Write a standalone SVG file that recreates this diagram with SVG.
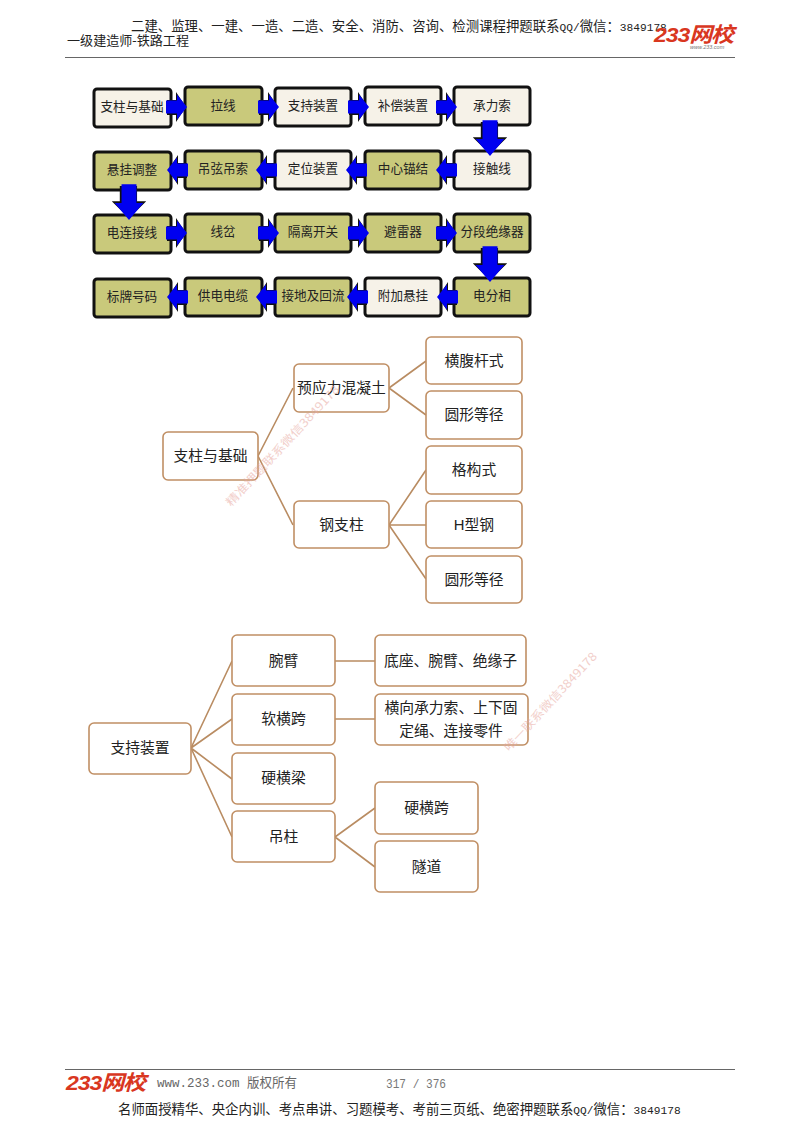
<svg xmlns="http://www.w3.org/2000/svg" width="800" height="1132" viewBox="0 0 800 1132">
<style>
text{font-family:"Liberation Sans","Noto Sans CJK SC",sans-serif;fill:#222}
.hd{font-family:"Liberation Serif","Noto Sans CJK SC",serif;fill:#222}
.mono{font-family:"Liberation Mono",monospace;font-size:11.2px}
.gy{font-family:"Liberation Mono","Noto Sans CJK SC",monospace;fill:#777}
.c{text-anchor:middle;dominant-baseline:central}
.f{font-size:12.6px}
.t{font-size:14.8px}
.k{fill:#c9c97b;stroke:#111;stroke-width:3}
.w{fill:#f6f2e8;stroke:#111;stroke-width:3}
.o{fill:#fff;stroke:#c08f64;stroke-width:1.6}
.l{fill:none;stroke:#b98c62;stroke-width:1.6}
.rule{stroke:#666;stroke-width:1.2}
.logo{font-style:italic;font-weight:700;font-size:21px;fill:#d9371f;letter-spacing:-1px}
.wm{font-family:"Noto Sans CJK SC",sans-serif;font-size:11.5px;opacity:.55}
</style>
<defs>
<g id="ar">
<polygon points="-20,-7 -11,-7 -11,-15 -1,0 -11,15 -11,8 -20,8" fill="#111"/>
<polygon points="-21,-6.500 -10,-6.500 -10,-12.500 0,0 -10,12.500 -10,6.500 -21,6.500" fill="#0000f0"/>
</g>
</defs>
<g id="header">
<text class="hd" x="131" y="31" font-size="13.4">二建、监理、一建、一造、二造、安全、消防、咨询、检测课程押题联系<tspan class="mono">QQ/</tspan>微信：<tspan class="mono">3849178</tspan></text>
<text class="hd" x="67" y="45" font-size="13" textLength="122" lengthAdjust="spacingAndGlyphs">一级建造师-铁路工程</text>
<text class="logo" x="654" y="42" textLength="79" lengthAdjust="spacingAndGlyphs">233网校</text>
<text x="690" y="49" font-size="5.5" style="fill:#777;font-style:italic">www.233.com</text>
<line class="rule" x1="65" y1="57.500" x2="735" y2="57.500"/>
</g>
<g id="n1"><rect class="w" x="94" y="89" width="77" height="38" rx="3"/><text class="c f" x="132" y="107">支柱与基础</text></g>
<g id="n2"><rect class="k" x="185" y="87" width="77" height="38" rx="3"/><text class="c f" x="223" y="106">拉线</text></g>
<g id="n3"><rect class="w" x="275" y="88" width="76" height="38" rx="3"/><text class="c f" x="313" y="106">支持装置</text></g>
<g id="n4"><rect class="w" x="365" y="87" width="76" height="38" rx="3"/><text class="c f" x="403" y="106">补偿装置</text></g>
<g id="n5"><rect class="w" x="454" y="87" width="76" height="38" rx="3"/><text class="c f" x="492" y="106">承力索</text></g>
<g id="n6"><rect class="k" x="94" y="152" width="77" height="38" rx="3"/><text class="c f" x="132" y="170">悬挂调整</text></g>
<g id="n7"><rect class="k" x="185" y="151" width="77" height="38" rx="3"/><text class="c f" x="223" y="169">吊弦吊索</text></g>
<g id="n8"><rect class="w" x="275" y="151" width="76" height="38" rx="3"/><text class="c f" x="313" y="169">定位装置</text></g>
<g id="n9"><rect class="k" x="365" y="151" width="76" height="38" rx="3"/><text class="c f" x="403" y="169">中心锚结</text></g>
<g id="n10"><rect class="w" x="454" y="151" width="76" height="38" rx="3"/><text class="c f" x="492" y="169">接触线</text></g>
<g id="n11"><rect class="k" x="94" y="215" width="77" height="38" rx="3"/><text class="c f" x="132" y="233">电连接线</text></g>
<g id="n12"><rect class="k" x="185" y="214" width="77" height="38" rx="3"/><text class="c f" x="223" y="232">线岔</text></g>
<g id="n13"><rect class="k" x="275" y="214" width="76" height="38" rx="3"/><text class="c f" x="313" y="232">隔离开关</text></g>
<g id="n14"><rect class="k" x="365" y="214" width="76" height="38" rx="3"/><text class="c f" x="403" y="232">避雷器</text></g>
<g id="n15"><rect class="k" x="454" y="214" width="76" height="38" rx="3"/><text class="c f" x="492" y="232">分段绝缘器</text></g>
<g id="n16"><rect class="k" x="94" y="279" width="77" height="38" rx="3"/><text class="c f" x="132" y="297">标牌号码</text></g>
<g id="n17"><rect class="k" x="185" y="278" width="77" height="38" rx="3"/><text class="c f" x="223" y="296">供电电缆</text></g>
<g id="n18"><rect class="k" x="275" y="278" width="76" height="38" rx="3"/><text class="c f" x="313" y="296">接地及回流</text></g>
<g id="n19"><rect class="w" x="365" y="278" width="76" height="38" rx="3"/><text class="c f" x="403" y="296">附加悬挂</text></g>
<g id="n20"><rect class="k" x="454" y="278" width="76" height="38" rx="3"/><text class="c f" x="492" y="296">电分相</text></g>
<g id="flow-connectors">
<use href="#ar" transform="translate(187,107)"/>
<use href="#ar" transform="translate(279,107)"/>
<use href="#ar" transform="translate(369,107)"/>
<use href="#ar" transform="translate(457,107)"/>
<use href="#ar" transform="translate(436,170) scale(-1,1)"/>
<use href="#ar" transform="translate(346,170) scale(-1,1)"/>
<use href="#ar" transform="translate(256,170) scale(-1,1)"/>
<use href="#ar" transform="translate(167,170) scale(-1,1)"/>
<use href="#ar" transform="translate(187,233)"/>
<use href="#ar" transform="translate(279,233)"/>
<use href="#ar" transform="translate(369,233)"/>
<use href="#ar" transform="translate(457,233)"/>
<use href="#ar" transform="translate(437,297) scale(-1,1)"/>
<use href="#ar" transform="translate(347,297) scale(-1,1)"/>
<use href="#ar" transform="translate(256,297) scale(-1,1)"/>
<use href="#ar" transform="translate(167,297) scale(-1,1)"/>
<use href="#ar" transform="translate(490,156) rotate(90) scale(1.7,1.15)"/>
<use href="#ar" transform="translate(129,220) rotate(90) scale(1.7,1.15)"/>
<use href="#ar" transform="translate(490,282) rotate(90) scale(1.7,1.15)"/>
</g>
<g id="tree-connectors">
<path class="l" d="M258 456L293 388M258 456L293 525M389 388L426 361M389 388L426 415M389 525L426 470M389 525H426M389 525L426 579"/>
<path class="l" d="M191 748L232 661M191 748L232 719M191 748L232 779M191 748L232 837M335 661H375M335 719H375M335 837L375 808M335 837L375 867"/>
</g>
<g id="m1"><rect class="o" x="163" y="432" width="95" height="48" rx="5"/><text class="c t" x="210.500" y="456">支柱与基础</text></g>
<g id="m2"><rect class="o" x="294" y="364" width="95" height="48" rx="5"/><text class="c t" x="341.500" y="388">预应力混凝土</text></g>
<g id="m3"><rect class="o" x="294" y="501" width="95" height="47" rx="5"/><text class="c t" x="341.500" y="525">钢支柱</text></g>
<g id="m4"><rect class="o" x="426" y="337" width="96" height="47" rx="5"/><text class="c t" x="474" y="361">横腹杆式</text></g>
<g id="m5"><rect class="o" x="426" y="391" width="96" height="48" rx="5"/><text class="c t" x="474" y="415">圆形等径</text></g>
<g id="m6"><rect class="o" x="426" y="446" width="96" height="48" rx="5"/><text class="c t" x="474" y="470">格构式</text></g>
<g id="m7"><rect class="o" x="426" y="501" width="96" height="47" rx="5"/><text class="c t" x="474" y="525">H型钢</text></g>
<g id="m8"><rect class="o" x="426" y="556" width="96" height="47" rx="5"/><text class="c t" x="474" y="580">圆形等径</text></g>
<g id="s1"><rect class="o" x="89" y="723" width="102" height="51" rx="5"/><text class="c t" x="140" y="748">支持装置</text></g>
<g id="s2"><rect class="o" x="232" y="635" width="103" height="51" rx="5"/><text class="c t" x="283.500" y="661">腕臂</text></g>
<g id="s3"><rect class="o" x="232" y="694" width="103" height="51" rx="5"/><text class="c t" x="283.500" y="719">软横跨</text></g>
<g id="s4"><rect class="o" x="232" y="753" width="103" height="51" rx="5"/><text class="c t" x="283.500" y="778">硬横梁</text></g>
<g id="s5"><rect class="o" x="232" y="811" width="103" height="51" rx="5"/><text class="c t" x="283.500" y="837">吊柱</text></g>
<g id="s6"><rect class="o" x="375" y="635" width="151" height="51" rx="5"/><text class="c t" x="450.500" y="661">底座、腕臂、绝缘子</text></g>
<g id="s7"><rect class="o" x="375" y="694" width="153" height="51" rx="5"/><text class="c t" x="451" y="708">横向承力索、上下固</text><text class="c t" x="451" y="731">定绳、连接零件</text></g>
<g id="s8"><rect class="o" x="375" y="782" width="103" height="52" rx="5"/><text class="c t" x="426.500" y="808">硬横跨</text></g>
<g id="s9"><rect class="o" x="375" y="841" width="103" height="51" rx="5"/><text class="c t" x="426.500" y="867">隧道</text></g>
<g id="watermarks">
<text class="wm" transform="translate(231,507) rotate(-47)" textLength="160" lengthAdjust="spacingAndGlyphs" style="fill:#e8a8a0">精准押题联系微信3849178</text>
<text class="wm" transform="translate(509,752) rotate(-47)" textLength="130" lengthAdjust="spacingAndGlyphs" style="fill:#e8a8a0">唯一联系微信3849178</text>
</g>
<g id="footer">
<line class="rule" x1="65" y1="1069.500" x2="735" y2="1069.500"/>
<text class="logo" x="66" y="1090" textLength="79" lengthAdjust="spacingAndGlyphs">233网校</text>
<text class="gy" x="157" y="1087" font-size="13" textLength="140" lengthAdjust="spacingAndGlyphs" style="fill:#666">www.233.com 版权所有</text>
<text class="gy" x="386" y="1088" font-size="12" textLength="60" lengthAdjust="spacingAndGlyphs" style="fill:#777">317 / 376</text>
<text class="hd" x="118" y="1114" font-size="13.4">名师面授精华、央企内训、考点串讲、习题模考、考前三页纸、绝密押题联系<tspan class="mono">QQ/</tspan>微信：<tspan class="mono">3849178</tspan></text>
</g>
</svg>
